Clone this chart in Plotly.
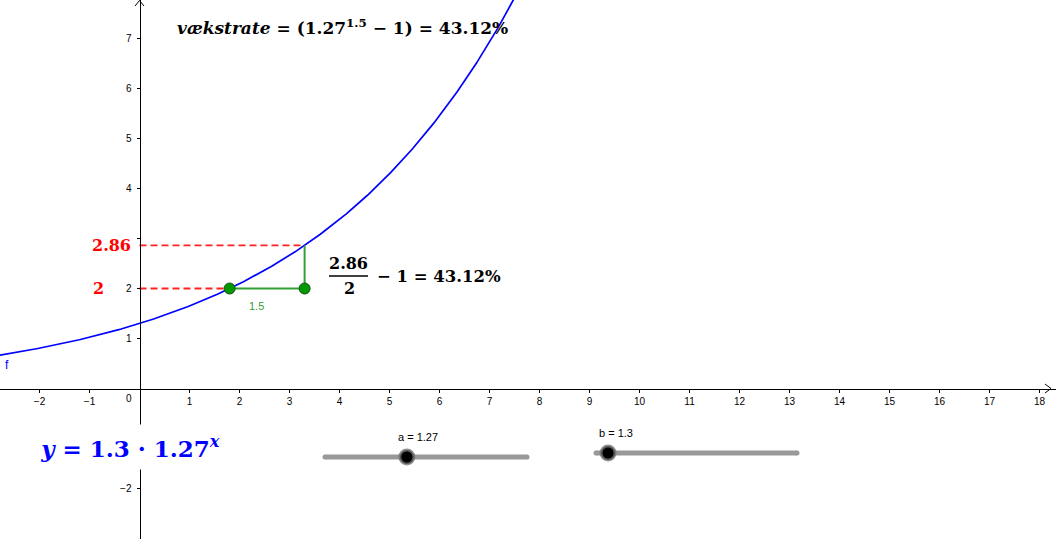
import numpy as np
import plotly.graph_objects as go

# ---- data ----
a = 1.27          # growth factor (slider a)
b = 1.3           # start value (slider b)
y_start = 2       # start y value of the step triangle
dx = 1.5          # step length
x_ticks = [-2, -1, 1, 2, 3, 4, 5, 6, 7, 8, 9, 10, 11, 12, 13, 14, 15, 16, 17, 18]
y_ticks = [-2, -1, 1, 2, 3, 4, 5, 6, 7]
y_tick_labels = ["−2", "", "1", "2", "", "4", "5", "6", "7"]   # -1 and 3 are hidden in the reference
a_range = [0.5, 2.4]
b_range = [1.0, 6.0]

# ---- pixel helpers (layout only) ----
W, H = 1056, 539
X0, Y0, S = 139.5, 388.5, 50.0
def px2x(p): return (p - X0) / S
def px2y(p): return (Y0 - p) / S

x1 = np.log(y_start / b) / np.log(a)
x2 = x1 + dx
y2 = b * a ** x2
rate = a ** dx - 1
y2_txt = f"{y2:.2f}"
rate_txt = f"{rate*100:.2f}%"

xs = np.linspace(px2x(0), 7.6, 400)
ys = b * a ** xs

fig = go.Figure()
fig.add_trace(go.Scatter(x=xs, y=ys, mode="lines", line=dict(color="#0000ff", width=1.7),
                         hoverinfo="skip", showlegend=False))
# red dashed guides
fig.add_trace(go.Scatter(x=[0, x2], y=[y2, y2], mode="lines",
                         line=dict(color="#ff2020", width=1.8, dash="7px,4px"), showlegend=False))
fig.add_trace(go.Scatter(x=[0, x1], y=[y_start, y_start], mode="lines",
                         line=dict(color="#ff2020", width=1.8, dash="7px,4px"), showlegend=False))
# green triangle
fig.add_trace(go.Scatter(x=[x1, x2, x2], y=[y_start, y_start, y2], mode="lines",
                         line=dict(color="#33a033", width=2), showlegend=False))
fig.add_trace(go.Scatter(x=[x1, x2], y=[y_start, y_start], mode="markers",
                         marker=dict(color="#009900", size=11, line=dict(color="#1a4d1a", width=1)),
                         showlegend=False))

# sliders
def slider(xa, xb, yv, val, rng, label):
    fig.add_trace(go.Scatter(x=[px2x(xa), px2x(xb)], y=[px2y(yv)] * 2, mode="lines+markers",
                             line=dict(color="#999999", width=5),
                             marker=dict(color="#999999", size=5), showlegend=False))
    kx = px2x(xa) + (val - rng[0]) / (rng[1] - rng[0]) * (px2x(xb) - px2x(xa))
    fig.add_trace(go.Scatter(x=[kx], y=[px2y(yv)], mode="markers",
                             marker=dict(color="#000000", size=14,
                                         line=dict(color="rgba(110,110,110,0.75)", width=3)),
                             showlegend=False))
    fig.add_annotation(x=kx, y=px2y(yv - 20), text=label, showarrow=False,
                       xanchor="left", xshift=-11,
                       font=dict(family="Liberation Sans, Arial", size=11, color="#000"))

slider(325, 527, 457, a, a_range, f"a = {a}")
slider(596, 797, 453, b, b_range, f"b = {b}")

serif = "DejaVu Serif"
# red value labels
fig.add_annotation(x=px2x(90), y=y2, text=f"<b>{y2_txt}</b>", showarrow=False, xanchor="left",
                   font=dict(family=serif, size=16, color="#ff0000"))
fig.add_annotation(x=px2x(91), y=y_start, text=f"<b>{y_start}</b>", showarrow=False, xanchor="left",
                   font=dict(family=serif, size=16, color="#ff0000"))
# 1.5 label
fig.add_annotation(x=(x1 + x2) / 2, y=y_start, text=f"{dx}", showarrow=False, xshift=-11, yshift=-17,
                   font=dict(family="Liberation Sans, Arial", size=11, color="#33a033"))
# fraction formula
fig.add_annotation(x=px2x(348.5), y=px2y(263), text=f"<b>{y2_txt}</b>", showarrow=False,
                   font=dict(family=serif, size=16, color="#000"))
fig.add_annotation(x=px2x(349), y=px2y(288), text=f"<b>{y_start}</b>", showarrow=False,
                   font=dict(family=serif, size=16, color="#000"))
fig.add_shape(type="line", x0=px2x(329), x1=px2x(368), y0=px2y(276), y1=px2y(276),
              line=dict(color="#000", width=1.5))
fig.add_annotation(x=px2x(375), y=px2y(276), text=f"<b>− 1 = {rate_txt}</b>", showarrow=False,
                   xanchor="left", font=dict(family=serif, size=16.5, color="#000"))
# top formula
fig.add_annotation(x=px2x(175), y=px2y(27),
                   text=f"<b><i>vækstrate</i> = (1.27<sup>{dx}</sup> − 1) = {rate_txt}</b>",
                   showarrow=False, xanchor="left", font=dict(family=serif, size=17, color="#000"))
# bottom function formula (white box hides the axis behind it, as in the reference)
fig.add_annotation(x=px2x(130), y=px2y(447),
                   text=f"<b><i>y</i> = {b} · {a}<sup><i>x</i></sup></b>",
                   showarrow=False, bgcolor="white", width=190, height=42,
                   font=dict(family=serif, size=23, color="#0000ff"))
# f label
fig.add_annotation(x=px2x(3), y=px2y(365), text="f", showarrow=False, xanchor="left",
                   font=dict(family="Liberation Sans, Arial", size=12, color="#0000ff"))
# origin label
fig.add_annotation(x=px2x(129), y=px2y(398), text="0", showarrow=False,
                   font=dict(family="Liberation Sans, Arial", size=10, color="#000"))
# axis arrows
fig.add_shape(type="path", path=f"M {px2x(1045)} {px2y(384)} L {px2x(1051)} {px2y(388.5)} L {px2x(1045)} {px2y(393)}",
              line=dict(color="#000", width=1))
fig.add_shape(type="path", path=f"M {px2x(135)} {px2y(6)} L {px2x(139.5)} {px2y(0.5)} L {px2x(144)} {px2y(6)}",
              line=dict(color="#000", width=1))

fig.update_layout(
    width=W, height=H, margin=dict(l=0, r=0, t=0, b=0),
    paper_bgcolor="white", plot_bgcolor="white", showlegend=False,
    xaxis=dict(range=[px2x(0), px2x(W)], anchor="free", position=(H - Y0) / H,
               showgrid=False, zeroline=False, showline=True, linecolor="#000", linewidth=1,
               ticks="outside", ticklen=3, tickcolor="#000", tickvals=x_ticks,
               tickfont=dict(family="Liberation Sans, Arial", size=10, color="#000"), fixedrange=True),
    yaxis=dict(range=[px2y(H), px2y(0)], anchor="free", position=X0 / W,
               showgrid=False, zeroline=False, showline=True, linecolor="#000", linewidth=1,
               ticks="outside", ticklen=3, tickcolor="#000", tickvals=y_ticks, ticktext=y_tick_labels,
               ticklabelstandoff=3,
               tickfont=dict(family="Liberation Sans, Arial", size=10, color="#000"), fixedrange=True),
)
fig.write_html("out.html", config={"displayModeBar": False},
               post_script="document.body.style.margin='0';document.body.style.overflow='hidden';")
